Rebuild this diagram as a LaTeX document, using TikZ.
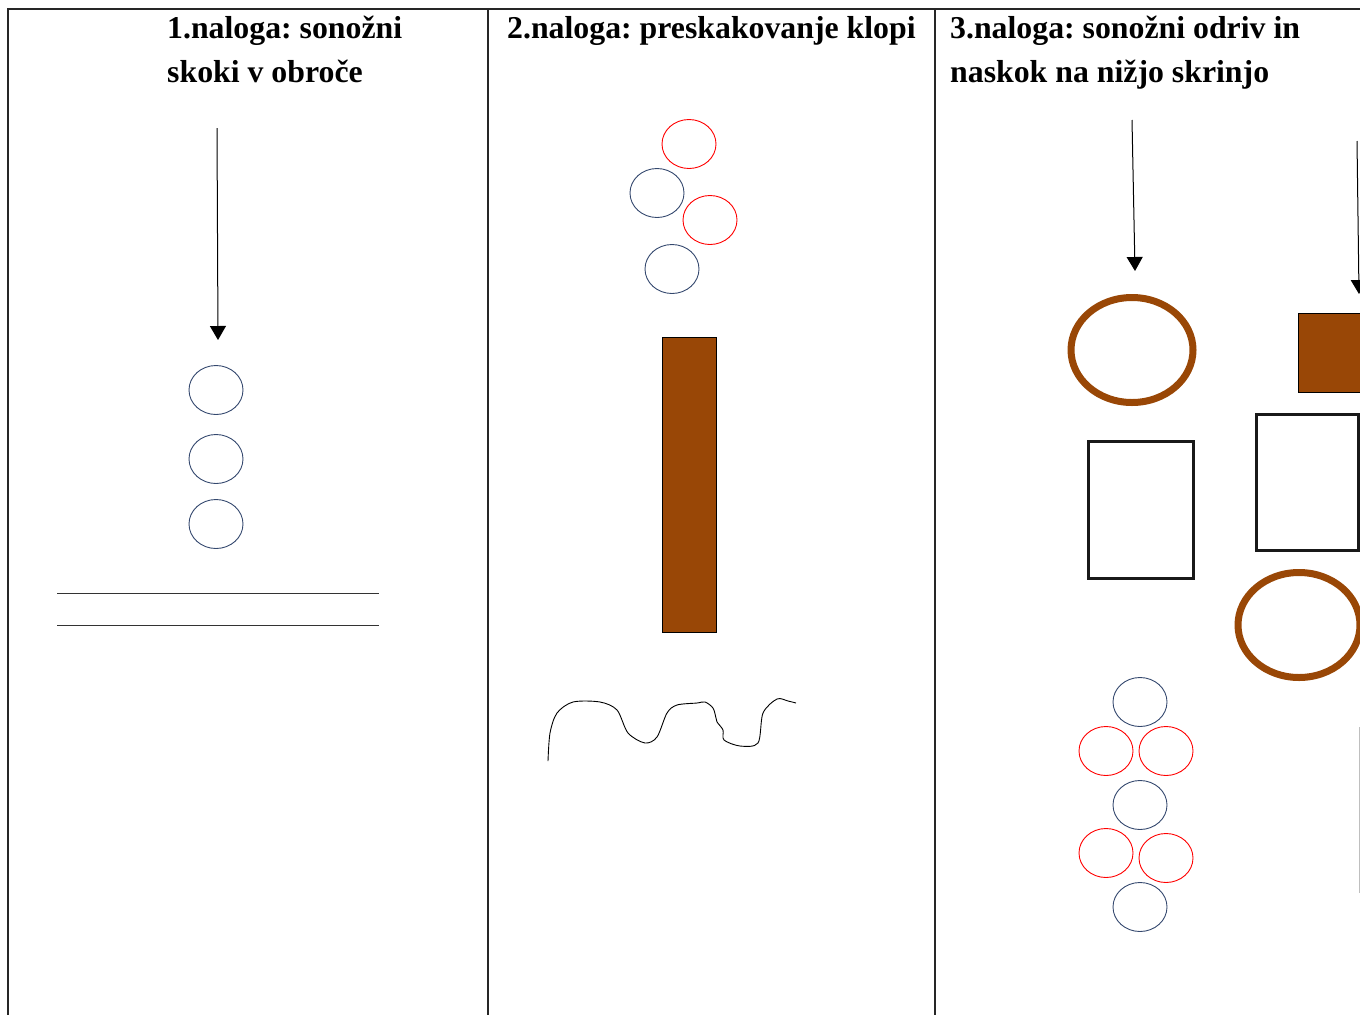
\documentclass[tikz,border=0pt]{standalone}
\usepackage{fontspec}
\setmainfont{Liberation Serif}
\usetikzlibrary{shapes.geometric,arrows.meta}
\definecolor{navy}{RGB}{52,72,110}
\definecolor{brownw}{RGB}{153,71,6}
\frenchspacing
\begin{document}
\begin{tikzpicture}[x=1pt,y=-1pt,
  title/.style={anchor=base west,inner sep=0,font=\fontsize{31.8}{44}\selectfont\bfseries},
  hoop/.style={ellipse,draw,line width=0.9pt,minimum width=54,minimum height=49,inner sep=0},
  navyhoop/.style={hoop,draw=navy},
  redhoop/.style={hoop,draw=red},
  bighoop/.style={ellipse,draw=brownw,line width=7,minimum width=122,minimum height=105,inner sep=0},
  box/.style={rectangle,draw=black!90,line width=3,inner sep=0},
  bench/.style={rectangle,draw=black,fill=brownw,line width=0.8,inner sep=0},
  arr/.style={line width=1,-{Triangle[length=14,width=16]}},
  grid/.style={draw=black!85,line width=1.1}]
\useasboundingbox (0,0) rectangle (1360,1015);
\clip (0,0) rectangle (1360,1015);
% table grid
\draw[grid] (1360,9) -- (8,9) -- (8,1015);
\draw[grid] (488,9) -- (488,1015);
\draw[grid] (935,9) -- (935,1015);
\draw[draw=black!25,line width=1] (1359,727) -- (1359,893);
% titles
\node[title] (t1a) at (167,38) {1.naloga: sonožni};
\node[title] (t1b) at (167,82) {skoki v obroče};
\node[title] (t2) at (507,38) {2.naloga: preskakovanje klopi};
\node[title] (t3a) at (950,38) {3.naloga: sonožni odriv in};
\node[title] (t3b) at (950,82) {naskok na nižjo skrinjo};
% column 1
\coordinate (a1s) at (217,128);
\coordinate (a1e) at (218,340);
\draw[arr] (a1s) -- (a1e);
\node[navyhoop] (c11) at (216,390) {};
\node[navyhoop] (c12) at (216,459) {};
\node[navyhoop] (c13) at (216,524) {};
\coordinate (l1a) at (57,593);
\coordinate (l1b) at (379,593);
\coordinate (l2a) at (57,625);
\coordinate (l2b) at (379,625);
\draw[black!80,line width=0.9] (l1a) -- (l1b);
\draw[black!80,line width=0.9] (l2a) -- (l2b);
% column 2
\node[redhoop] (c21) at (689,144) {};
\node[navyhoop] (c22) at (657,193) {};
\node[redhoop] (c23) at (710,220) {};
\node[navyhoop] (c24) at (672,269) {};
\node[bench,minimum width=54,minimum height=295] (klop) at (689,484.5) {};
\draw[line width=0.9] plot[smooth,tension=0.5] coordinates {
 (548,761) (550,733) (557,713) (573,702) (600,702) (617,710) (628,733)
 (645,743) (657,737) (667,713) (677,705) (697,703) (705,702) (713,708)
 (716,718) (717,722) (723,730) (724,740) (740,746) (758,743) (763,713)
 (777,699) (788,701) (796,703)};
% column 3
\coordinate (a2s) at (1132,120);
\coordinate (a2e) at (1135,271);
\draw[arr] (a2s) -- (a2e);
\coordinate (a3s) at (1357,141);
\coordinate (a3e) at (1359,294);
\draw[arr] (a3s) -- (a3e);
\node[bighoop] (r1) at (1132,350) {};
\node[bench,minimum width=75,minimum height=79] (skr) at (1335.5,352.5) {};
\node[box,minimum width=105,minimum height=137] (b1) at (1140.5,509.5) {};
\node[box,minimum width=102,minimum height=136] (b2) at (1307,482) {};
\node[bighoop] (r2) at (1299,625) {};
\node[navyhoop] (d1) at (1140,702) {};
\node[redhoop] (d2) at (1106,751) {};
\node[redhoop] (d3) at (1166,751) {};
\node[navyhoop] (d4) at (1140,805) {};
\node[redhoop] (d5) at (1106,853) {};
\node[redhoop] (d6) at (1166,858) {};
\node[navyhoop] (d7) at (1140,907) {};
\end{tikzpicture}
\end{document}
